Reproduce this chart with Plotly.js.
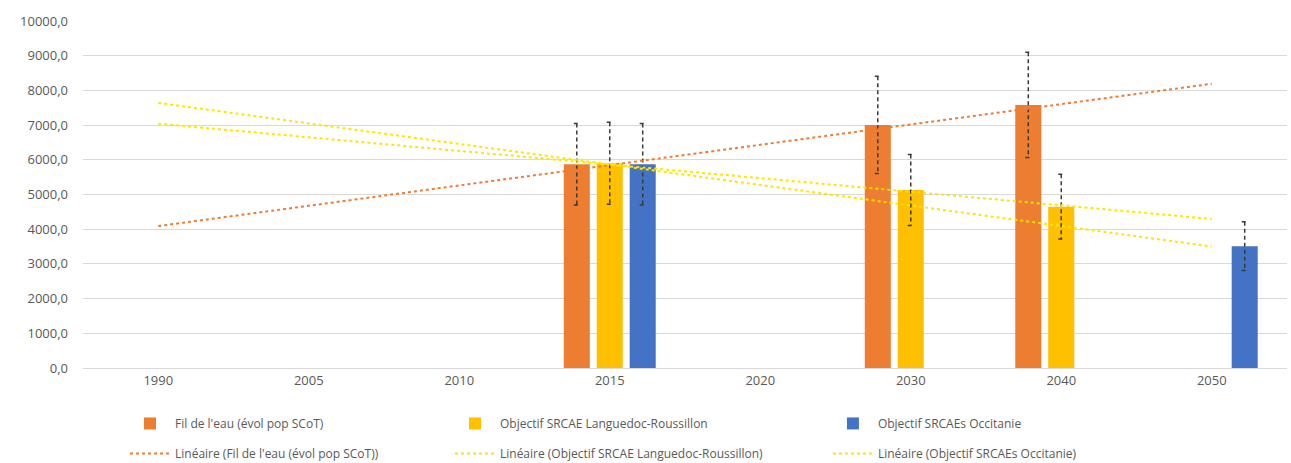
<!DOCTYPE html>
<html>
<head>
<meta charset="utf-8">
<script src="https://cdn.plot.ly/plotly-3.0.1.min.js"></script>
<style>
  html, body { margin: 0; padding: 0; background: #fff; }
  #chart { width: 1291px; height: 463px; }
  .errorbar path { stroke-dasharray: 4 3; }
</style>
</head>
<body>
<div id="chart"></div>
<script>
// Categories (years)
const categories = ["1990", "2005", "2010", "2015", "2020", "2030", "2040", "2050"];

// Bar series values (null = no bar)
const filDeLeau       = [null, null, null, 5870, null, 7005, 7580, null];
const srcaeLR         = [null, null, null, 5900, null, 5130, 4650, null];
const srcaeOccitanie  = [null, null, null, 5870, null, null, null, 3510];

// Error bar size (percent of value)
const errorPercent = 20;

// Linear trend lines: endpoints (at 1990 and 2050)
const trendX = ["1990", "2050"];
const trendFil        = [4090, 8190];
const trendSrcaeLR    = [7040, 4295];
const trendOccitanie  = [7640, 3500];

// Legend labels
const names = {
  fil: "Fil de l'eau (évol pop SCoT)",
  lr: "Objectif SRCAE Languedoc-Roussillon",
  occ: "Objectif SRCAEs Occitanie",
  tFil: "Linéaire (Fil de l'eau (évol pop SCoT))",
  tLr: "Linéaire (Objectif SRCAE Languedoc-Roussillon)",
  tOcc: "Linéaire (Objectif SRCAEs Occitanie)"
};

const colors = { orange: "#ED7D31", yellow: "#FFC000", blue: "#4472C4", trendYellow: "#FFE600" };

const errStyle = { type: "percent", value: errorPercent, color: "#3a3a3a", thickness: 1.5, width: 3, visible: true };

const traces = [
  { type: "bar", x: categories, y: filDeLeau, name: names.fil, marker: { color: colors.orange }, error_y: errStyle, legend: "legend", legendgroup: "a1" },
  { type: "bar", x: categories, y: srcaeLR, name: names.lr, marker: { color: colors.yellow }, error_y: errStyle, legend: "legend2", legendgroup: "b1" },
  { type: "bar", x: categories, y: srcaeOccitanie, name: names.occ, marker: { color: colors.blue }, error_y: errStyle, legend: "legend3", legendgroup: "c1" },
  { type: "scatter", mode: "lines", x: trendX, y: trendFil, name: names.tFil, line: { color: colors.orange, width: 2, dash: "dot" }, legend: "legend", legendgroup: "a2", hoverinfo: "skip" },
  { type: "scatter", mode: "lines", x: trendX, y: trendSrcaeLR, name: names.tLr, line: { color: colors.trendYellow, width: 2, dash: "dot" }, legend: "legend2", legendgroup: "b2", hoverinfo: "skip" },
  { type: "scatter", mode: "lines", x: trendX, y: trendOccitanie, name: names.tOcc, line: { color: colors.trendYellow, width: 2, dash: "dot" }, legend: "legend3", legendgroup: "c2", hoverinfo: "skip" }
];

const legendBase = {
  orientation: "v", yanchor: "top", xanchor: "left", y: -0.118,
  font: { family: "Open Sans", size: 12, color: "#595959" },
  bgcolor: "rgba(0,0,0,0)", traceorder: "grouped", tracegroupgap: 11, itemwidth: 40
};

const layout = {
  width: 1291, height: 463,
  margin: { l: 83, r: 4, t: 21, b: 95, autoexpand: false },
  paper_bgcolor: "#ffffff", plot_bgcolor: "#ffffff",
  font: { family: "Open Sans", size: 13, color: "#595959" },
  barmode: "group", bargap: 0.343, bargroupgap: 0.21,
  showlegend: true,
  xaxis: {
    type: "category", categoryorder: "array", categoryarray: categories,
    showgrid: false, showline: true, linecolor: "#d9d9d9", linewidth: 1,
    ticks: "", tickfont: { family: "Open Sans", size: 13, color: "#595959" },
    fixedrange: true
  },
  yaxis: {
    range: [0, 10000], dtick: 1000, tick0: 0, tickformat: ".1f",
    showgrid: true, gridcolor: "#d9d9d9", gridwidth: 1, zeroline: false,
    showline: false, ticks: "", ticklabelstandoff: 14,
    tickfont: { family: "Open Sans", size: 13, color: "#595959" },
    fixedrange: true
  },
  separators: ", ",
  legend: Object.assign({}, legendBase, { x: 0.0349 }),
  legend2: Object.assign({}, legendBase, { x: 0.3048 }),
  legend3: Object.assign({}, legendBase, { x: 0.6187 })
};

Plotly.newPlot("chart", traces, layout, { displayModeBar: false, staticPlot: true });
</script>
</body>
</html>
